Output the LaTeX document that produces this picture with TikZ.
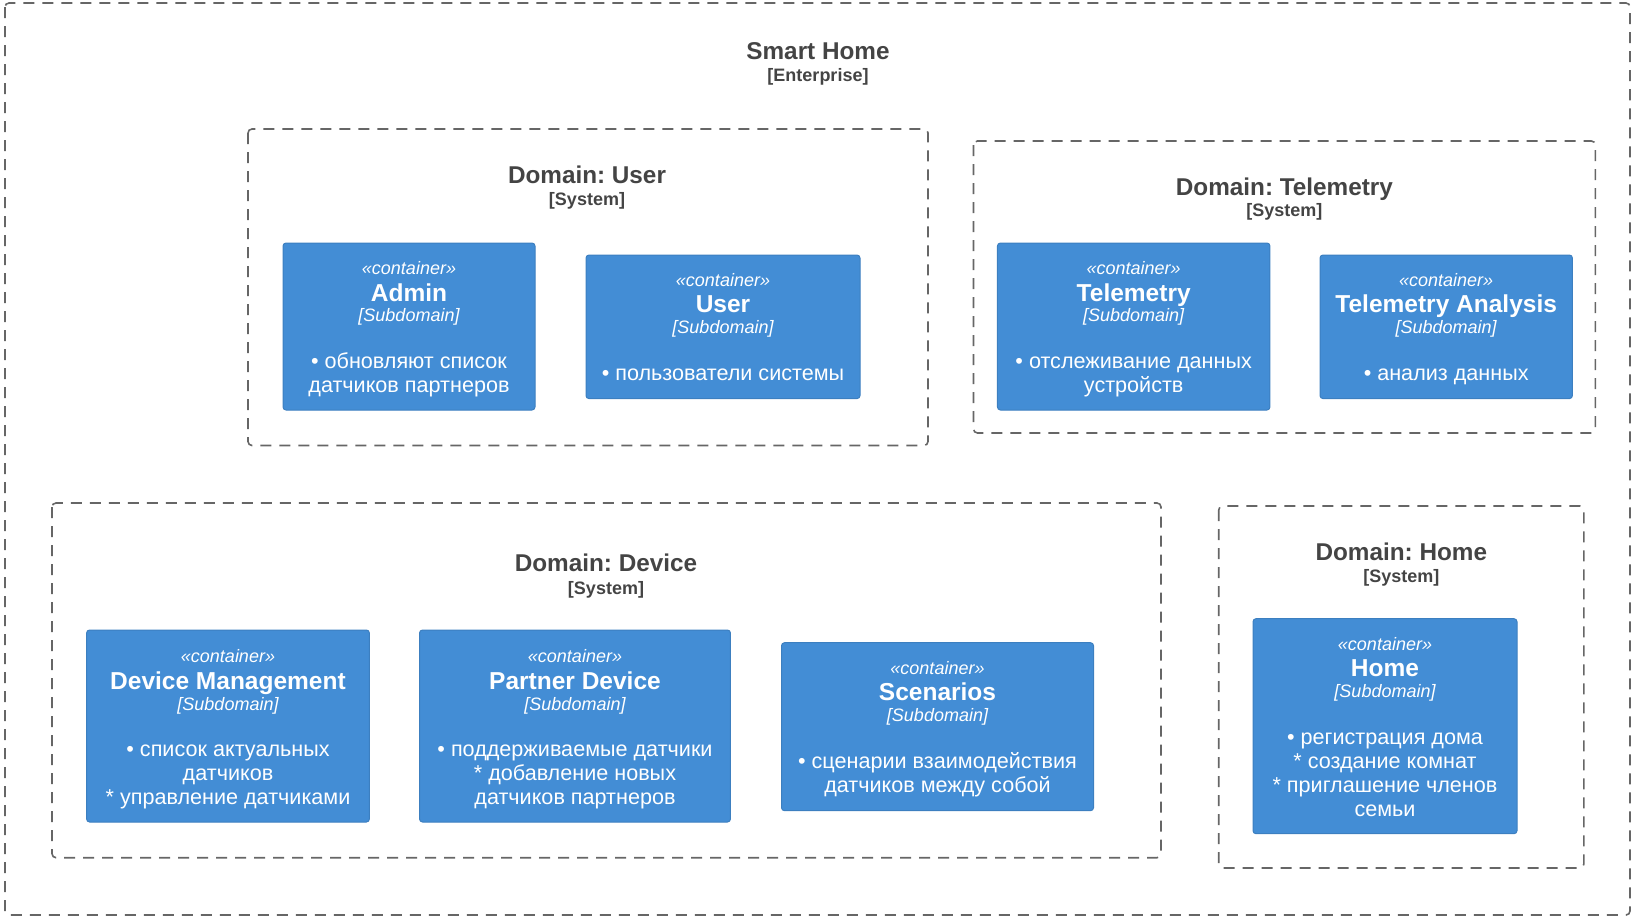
\documentclass[tikz,border=0pt]{standalone}
\usepackage{fontspec}
\setmainfont{Liberation Sans}
\frenchspacing
\definecolor{boxblue}{HTML}{438DD5}
\definecolor{boxedge}{HTML}{3C7FC0}
\definecolor{titlegray}{HTML}{444444}
\definecolor{linegray}{HTML}{666666}
\begin{document}
\begin{tikzpicture}[x=1pt,y=-1pt,
  boundary/.style={draw=linegray, line width=1.6pt, dash pattern=on 11pt off 8pt, rounded corners=4pt},
  ctbox/.style={draw=boxedge, fill=boxblue, line width=1pt, rounded corners=3pt, inner sep=0pt},
  bndtitle/.style={text=titlegray, font=\fontsize{24.3}{28}\selectfont\bfseries, inner sep=0pt, text height=18pt, text depth=0pt},
  bndtype/.style={text=titlegray, font=\fontsize{18}{21}\selectfont\bfseries, inner sep=0pt, text height=14pt, text depth=0pt},
  stereo/.style={text=white, font=\fontsize{18}{21}\selectfont\itshape, inner sep=0pt, text height=13pt, text depth=0pt},
  ctname/.style={text=white, font=\fontsize{24.5}{28}\selectfont\bfseries, inner sep=0pt, text height=18pt, text depth=0pt},
  cttype/.style={text=white, font=\fontsize{18}{21}\selectfont\itshape, inner sep=0pt, text height=14pt, text depth=0pt},
  ctdescr/.style={text=white, font=\fontsize{21.6}{24}\selectfont, inner sep=0pt, text height=15pt, text depth=0pt}]
\useasboundingbox (0,0) rectangle (1636,919);

% enterprise
\draw[boundary] (5,3) rectangle (1630,915);
\node[bndtitle] (smarthome) at (818,50) {Smart Home};
\node[bndtype] (smarthome-tp) at (818,74) {[Enterprise]};

% domain: user
\draw[boundary] (248,129) rectangle (928,445.5);
\node[bndtitle] (userdom) at (587,174) {Domain: User};
\node[bndtype] (userdom-tp) at (587,198) {[System]};

\node[ctbox, minimum width=252pt, minimum height=167pt] (admin) at (409,326.5) {};
\node[stereo] (admin-st) at (409,268) {«container»};
\node[ctname] (admin-nm) at (409,292) {Admin};
\node[cttype] (admin-tp) at (409,314) {[Subdomain]};
\node[ctdescr] (admin-d1) at (409,361) {• обновляют список};
\node[ctdescr] (admin-d2) at (409,385) {датчиков партнеров};

\node[ctbox, minimum width=274pt, minimum height=143.6pt] (user) at (723,326.8) {};
\node[stereo] (user-st) at (723,280) {«container»};
\node[ctname] (user-nm) at (723,303.6) {User};
\node[cttype] (user-tp) at (723,326.6) {[Subdomain]};
\node[ctdescr] (user-d1) at (723,372.5) {• пользователи системы};

% domain: telemetry
\draw[boundary] (973.5,141) rectangle (1595.4,433);
\node[bndtitle] (teledom) at (1284.4,186.8) {Domain: Telemetry};
\node[bndtype] (teledom-tp) at (1284.4,209.7) {[System]};

\node[ctbox, minimum width=272.5pt, minimum height=167pt] (tele) at (1133.7,326.5) {};
\node[stereo] (tele-st) at (1133.7,268) {«container»};
\node[ctname] (tele-nm) at (1133.7,292) {Telemetry};
\node[cttype] (tele-tp) at (1133.7,314) {[Subdomain]};
\node[ctdescr] (tele-d1) at (1133.7,361) {• отслеживание данных};
\node[ctdescr] (tele-d2) at (1133.7,385) {устройств};

\node[ctbox, minimum width=252.4pt, minimum height=143.6pt] (analysis) at (1446.2,326.8) {};
\node[stereo] (analysis-st) at (1446.2,280) {«container»};
\node[ctname] (analysis-nm) at (1446.2,303.6) {Telemetry Analysis};
\node[cttype] (analysis-tp) at (1446.2,326.6) {[Subdomain]};
\node[ctdescr] (analysis-d1) at (1446.2,372.5) {• анализ данных};

% domain: device
\draw[boundary] (52,503) rectangle (1161,857.7);
\node[bndtitle] (devdom) at (606,562.4) {Domain: Device};
\node[bndtype] (devdom-tp) at (606,587.4) {[System]};

\node[ctbox, minimum width=282.8pt, minimum height=192pt] (devmgmt) at (228,726) {};
\node[stereo] (devmgmt-st) at (228,656) {«container»};
\node[ctname] (devmgmt-nm) at (228,680) {Device Management};
\node[cttype] (devmgmt-tp) at (228,703) {[Subdomain]};
\node[ctdescr] (devmgmt-d1) at (228,749) {• список актуальных};
\node[ctdescr] (devmgmt-d2) at (228,773) {датчиков};
\node[ctdescr] (devmgmt-d3) at (228,797) {* управление датчиками};

\node[ctbox, minimum width=310.9pt, minimum height=192pt] (partner) at (575,726) {};
\node[stereo] (partner-st) at (575,656) {«container»};
\node[ctname] (partner-nm) at (575,680) {Partner Device};
\node[cttype] (partner-tp) at (575,703) {[Subdomain]};
\node[ctdescr] (partner-d1) at (575,749) {• поддерживаемые датчики};
\node[ctdescr] (partner-d2) at (575,773) {* добавление новых};
\node[ctdescr] (partner-d3) at (575,797) {датчиков партнеров};

\node[ctbox, minimum width=312pt, minimum height=168pt] (scen) at (937.5,726.7) {};
\node[stereo] (scen-st) at (937.5,667.8) {«container»};
\node[ctname] (scen-nm) at (937.5,691.8) {Scenarios};
\node[cttype] (scen-tp) at (937.5,714.7) {[Subdomain]};
\node[ctdescr] (scen-d1) at (937.5,760.6) {• сценарии взаимодействия};
\node[ctdescr] (scen-d2) at (937.5,784.6) {датчиков между собой};

% domain: home
\draw[boundary] (1218.7,506) rectangle (1583.9,868);
\node[bndtitle] (homedom) at (1401.3,551) {Domain: Home};
\node[bndtype] (homedom-tp) at (1401.3,575) {[System]};

\node[ctbox, minimum width=264pt, minimum height=215pt] (home) at (1385,726.2) {};
\node[stereo] (home-st) at (1385,643.8) {«container»};
\node[ctname] (home-nm) at (1385,667.8) {Home};
\node[cttype] (home-tp) at (1385,690.7) {[Subdomain]};
\node[ctdescr] (home-d1) at (1385,736.6) {• регистрация дома};
\node[ctdescr] (home-d2) at (1385,760.6) {* создание комнат};
\node[ctdescr] (home-d3) at (1385,784.6) {* приглашение членов};
\node[ctdescr] (home-d4) at (1385,808.6) {семьи};
\end{tikzpicture}
\end{document}
